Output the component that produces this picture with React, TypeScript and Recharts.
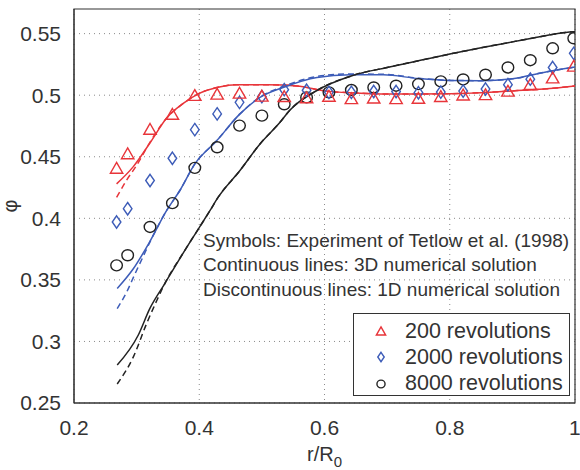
import React from 'react';
import {
  ComposedChart,
  Line,
  Scatter,
  XAxis,
  YAxis,
  CartesianGrid,
  ReferenceArea,
} from 'recharts';

// Radial positions of the measurement points (r/R0)
const markerX = [0.268, 0.2857, 0.3214, 0.3571, 0.3929, 0.4286, 0.4643, 0.5, 0.5357, 0.5714, 0.6071, 0.6429, 0.6786, 0.7143, 0.75, 0.7857, 0.8214, 0.8571, 0.8929, 0.9286, 0.9643, 0.998];

// Experiment of Tetlow et al. (1998)
const exp200 = [0.441, 0.4528, 0.4726, 0.4848, 0.5002, 0.5012, 0.502, 0.4996, 0.4992, 0.4982, 0.4995, 0.4975, 0.498, 0.4975, 0.4978, 0.4993, 0.5005, 0.5008, 0.5036, 0.509, 0.5144, 0.5239];
const exp2000 = [0.397, 0.4078, 0.4307, 0.4488, 0.472, 0.4848, 0.4942, 0.4988, 0.5045, 0.504, 0.5023, 0.5023, 0.503, 0.503, 0.502, 0.5025, 0.5033, 0.505, 0.5085, 0.513, 0.5225, 0.534];
const exp8000 = [0.3618, 0.37, 0.393, 0.4123, 0.441, 0.4577, 0.4753, 0.4834, 0.4926, 0.4982, 0.5023, 0.5042, 0.5063, 0.5077, 0.509, 0.5112, 0.5128, 0.5166, 0.5225, 0.5284, 0.5381, 0.5462];

// 3D numerical solution
const sol3d200X = [0.268, 0.2947, 0.321, 0.348, 0.375, 0.4, 0.43, 0.46, 0.51, 0.556, 0.6, 0.65, 0.7, 0.75, 0.8, 0.85, 0.9, 0.95, 1.0];
const sol3d200Y = [0.428, 0.442, 0.461, 0.4815, 0.4935, 0.5015, 0.5065, 0.5085, 0.5085, 0.5075, 0.5035, 0.5018, 0.501, 0.501, 0.5012, 0.502, 0.5035, 0.505, 0.5075];
const sol3d2000X = [0.269, 0.2947, 0.321, 0.348, 0.369, 0.393, 0.428, 0.465, 0.497, 0.535, 0.588, 0.641, 0.694, 0.75, 0.8, 0.85, 0.9, 0.95, 1.0];
const sol3d2000Y = [0.343, 0.359, 0.381, 0.4064, 0.4226, 0.4442, 0.4631, 0.4848, 0.4982, 0.5065, 0.5144, 0.5165, 0.5165, 0.5135, 0.512, 0.5118, 0.5133, 0.5185, 0.5228];
const sol3d8000X = [0.269, 0.3025, 0.321, 0.345, 0.377, 0.4173, 0.43, 0.465, 0.497, 0.529, 0.545, 0.585, 0.645, 0.7, 0.755, 0.8, 0.85, 0.9, 0.95, 0.985, 1.0];
const sol3d8000Y = [0.2808, 0.305, 0.3266, 0.347, 0.374, 0.4064, 0.417, 0.4388, 0.4604, 0.478, 0.488, 0.503, 0.516, 0.5225, 0.5285, 0.5334, 0.5385, 0.5433, 0.548, 0.551, 0.5515];

// 1D numerical solution
const sol1d200X = [0.268, 0.284, 0.3, 0.321, 0.348, 0.375, 0.4, 0.43, 0.46, 0.51, 0.556, 0.6, 0.65, 0.7, 0.75, 0.8, 0.85, 0.9, 0.95, 1.0];
const sol1d200Y = [0.417, 0.431, 0.443, 0.4615, 0.4815, 0.4935, 0.5015, 0.5065, 0.5085, 0.5085, 0.5075, 0.5035, 0.5018, 0.501, 0.501, 0.5012, 0.502, 0.5035, 0.505, 0.5075];
const sol1d2000X = [0.269, 0.284, 0.2975, 0.31, 0.321, 0.348, 0.369, 0.393, 0.428, 0.465, 0.497, 0.535, 0.588, 0.641, 0.694, 0.75, 0.8, 0.85, 0.9, 0.95, 1.0];
const sol1d2000Y = [0.3267, 0.34, 0.355, 0.3685, 0.3805, 0.4064, 0.4226, 0.4442, 0.4631, 0.4848, 0.4985, 0.5072, 0.5152, 0.5172, 0.517, 0.5138, 0.512, 0.5118, 0.5133, 0.5185, 0.5228];
const sol1d8000X = [0.269, 0.2948, 0.316, 0.332, 0.345, 0.377, 0.4173, 0.43, 0.465, 0.497, 0.529, 0.545, 0.585, 0.645, 0.7, 0.755, 0.8, 0.85, 0.9, 0.95, 0.985, 1.0];
const sol1d8000Y = [0.2654, 0.2875, 0.3146, 0.333, 0.347, 0.374, 0.4064, 0.417, 0.4388, 0.4604, 0.478, 0.488, 0.503, 0.516, 0.5225, 0.5285, 0.5334, 0.5385, 0.5433, 0.548, 0.551, 0.5515];

const xTicks = [0.2, 0.4, 0.6, 0.8, 1];
const yTicks = [0.25, 0.3, 0.35, 0.4, 0.45, 0.5, 0.55];

const legendLabels = ['200 revolutions', '2000 revolutions', '8000 revolutions'];
const noteLines = [
  'Symbols: Experiment of Tetlow et al. (1998)',
  'Continuous lines: 3D numerical solution',
  'Discontinuous lines: 1D numerical solution',
];

const RED = '#e8353a';
const BLUE = '#3d5cb8';
const BLACK = '#222222';
const FONT = '"Liberation Sans", Arial, Helvetica, sans-serif';

const zip = (xs: number[], ys: number[]) => xs.map((x, i) => ({ x, y: ys[i] }));

const pts200 = zip(markerX, exp200);
const pts2000 = zip(markerX, exp2000);
const pts8000 = zip(markerX, exp8000);

const TriangleMark = ({ cx, cy, s = 1 }: any) => {
  const w = 6.2 * s;
  const h = 5.4 * s;
  return (
    <path
      d={`M${cx},${cy - h} L${cx + w},${cy + h} L${cx - w},${cy + h} Z`}
      fill="none"
      stroke={RED}
      strokeWidth={1.4}
      strokeLinejoin="miter"
    />
  );
};

const DiamondMark = ({ cx, cy, s = 1 }: any) => {
  const w = 4.3 * s;
  const h = 6.2 * s;
  return (
    <path
      d={`M${cx},${cy - h} L${cx + w},${cy} L${cx},${cy + h} L${cx - w},${cy} Z`}
      fill="none"
      stroke={BLUE}
      strokeWidth={1.4}
    />
  );
};

const CircleMark = ({ cx, cy, s = 1 }: any) => (
  <ellipse cx={cx} cy={cy} rx={5.8 * s} ry={5.5 * s} fill="none" stroke={BLACK} strokeWidth={1.4} />
);

const fmt = (v: number) => String(v);

export default function App() {
  return (
    <div style={{ position: 'absolute', left: 0, top: 0, width: 580, height: 470, fontFamily: FONT, background: '#fff' }}>
      <ComposedChart width={580} height={470} margin={{ top: 9, right: 5, bottom: 0, left: 0 }}>
        <CartesianGrid
          stroke="#8a8a8a"
          strokeDasharray="1 4"
          horizontalValues={yTicks}
          verticalValues={xTicks}
        />
        <XAxis
          dataKey="x"
          type="number"
          domain={[0.2, 1]}
          ticks={xTicks}
          allowDataOverflow
          height={67}
          tickFormatter={fmt}
          tickSize={0}
          tickMargin={17}
          stroke="#333"
          tick={{ fill: '#333', fontSize: 21, fontFamily: FONT }}
        />
        <YAxis
          dataKey="y"
          type="number"
          domain={[0.25, 0.57]}
          ticks={yTicks}
          allowDataOverflow
          width={74}
          tickFormatter={fmt}
          tickSize={0}
          tickMargin={13}
          stroke="#333"
          tick={{ fill: '#333', fontSize: 21, fontFamily: FONT }}
        />
        <ReferenceArea x1={0.2} x2={1} y1={0.25} y2={0.57} fill="none" stroke="#333" strokeWidth={1.2} ifOverflow="visible" />

        <Line data={zip(sol1d200X, sol1d200Y)} dataKey="y" type="monotone" stroke={RED} strokeWidth={1.5} strokeDasharray="6 4" dot={false} isAnimationActive={false} />
        <Line data={zip(sol1d2000X, sol1d2000Y)} dataKey="y" type="monotone" stroke={BLUE} strokeWidth={1.5} strokeDasharray="6 4" dot={false} isAnimationActive={false} />
        <Line data={zip(sol1d8000X, sol1d8000Y)} dataKey="y" type="monotone" stroke={BLACK} strokeWidth={1.5} strokeDasharray="6 4" dot={false} isAnimationActive={false} />

        <Line data={zip(sol3d200X, sol3d200Y)} dataKey="y" type="monotone" stroke={RED} strokeWidth={1.5} dot={false} isAnimationActive={false} />
        <Line data={zip(sol3d2000X, sol3d2000Y)} dataKey="y" type="monotone" stroke={BLUE} strokeWidth={1.5} dot={false} isAnimationActive={false} />
        <Line data={zip(sol3d8000X, sol3d8000Y)} dataKey="y" type="monotone" stroke={BLACK} strokeWidth={1.5} dot={false} isAnimationActive={false} />

        <Scatter data={pts8000} dataKey="y" isAnimationActive={false} shape={(p: any) => <CircleMark cx={p.cx} cy={p.cy} />} />
        <Scatter data={pts2000} dataKey="y" isAnimationActive={false} shape={(p: any) => <DiamondMark cx={p.cx} cy={p.cy} />} />
        <Scatter data={pts200} dataKey="y" isAnimationActive={false} shape={(p: any) => <TriangleMark cx={p.cx} cy={p.cy} />} />
      </ComposedChart>

      {/* annotation block */}
      <div style={{ position: 'absolute', left: 203, top: 229, color: '#333', fontSize: 19, lineHeight: '24.3px', whiteSpace: 'nowrap' }}>
        {noteLines.map((t) => (
          <div key={t}>{t}</div>
        ))}
      </div>

      {/* legend */}
      <div
        style={{
          position: 'absolute',
          left: 353,
          top: 313,
          width: 215,
          height: 81,
          border: '1.2px solid #333',
          background: '#fff',
          color: '#333',
          fontSize: 21.5,
        }}
      >
        {legendLabels.map((label, i) => (
          <div key={label} style={{ position: 'absolute', left: 0, top: 4 + i * 26.3, height: 26, display: 'flex', alignItems: 'center', whiteSpace: 'nowrap' }}>
            <svg width={50} height={26} style={{ flex: 'none' }}>
              {i === 0 && <TriangleMark cx={27} cy={13} s={0.75} />}
              {i === 1 && <DiamondMark cx={27} cy={13} s={0.75} />}
              {i === 2 && <CircleMark cx={27} cy={13} s={0.7} />}
            </svg>
            <span style={{ marginLeft: 1 }}>{label}</span>
          </div>
        ))}
      </div>

      {/* axis titles */}
      <div style={{ position: 'absolute', left: 307, top: 443, color: '#333', fontSize: 20, whiteSpace: 'nowrap' }}>
        r/R<sub style={{ fontSize: 15, verticalAlign: '-6px' }}>0</sub>
      </div>
      <div
        style={{
          position: 'absolute',
          left: 0,
          top: 194,
          width: 20,
          height: 24,
          color: '#333',
          fontSize: 20,
          lineHeight: '24px',
          textAlign: 'center',
          transform: 'rotate(-90deg)',
        }}
      >
        φ
      </div>
    </div>
  );
}
